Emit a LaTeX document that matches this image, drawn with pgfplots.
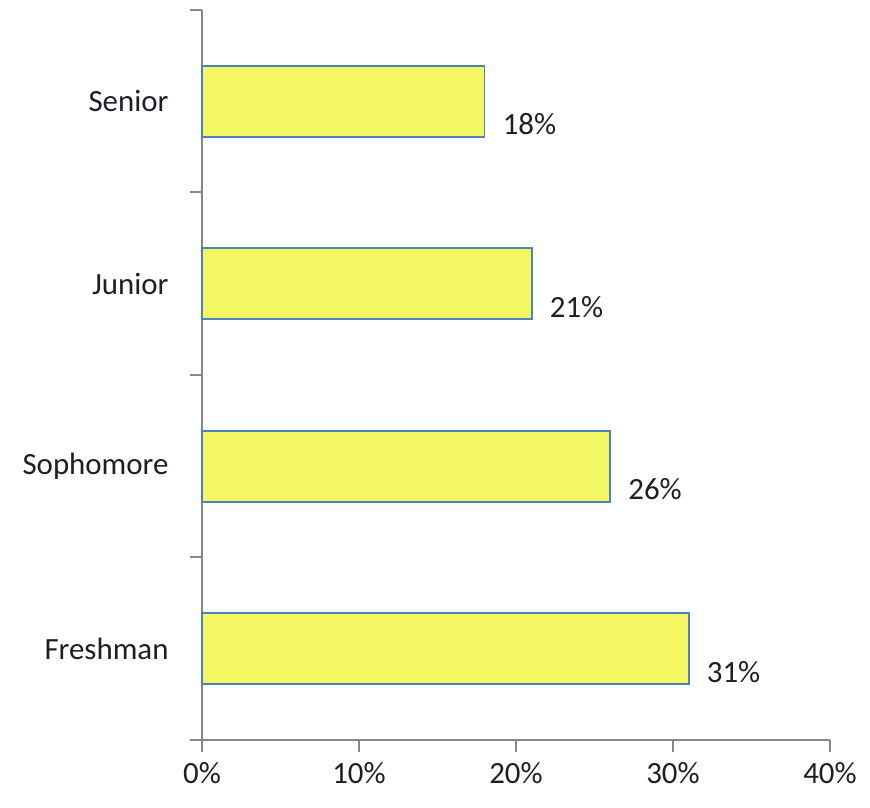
\documentclass[border=0pt]{standalone}
\usepackage{pgfplots}
\pgfplotsset{compat=1.18}
\usepackage{fontspec}
\setmainfont{Carlito}
\definecolor{barfill}{RGB}{243,248,98}
\definecolor{barline}{RGB}{79,129,189}
\definecolor{axisgray}{RGB}{134,134,134}
\definecolor{txt}{RGB}{30,30,40}
\begin{document}
\begin{tikzpicture}
\begin{axis}[
  at={(0,0)}, anchor=south west,
  scale only axis, width=628bp, height=730bp,
  xmin=0, xmax=40, ymin=-0.5, ymax=3.5,
  axis x line=bottom, axis y line=left,
  axis line style={-, draw=axisgray, line width=2bp},
  every outer x axis line/.append style={-},
  every outer y axis line/.append style={-},
  xtick={0,10,20,30,40},
  xticklabels={0\%,10\%,20\%,30\%,40\%},
  ytick={-0.5,0.5,1.5,2.5,3.5},
  yticklabels={Freshman,Sophomore,Junior,Senior},
  y tick label as interval,
  tick align=outside,
  major tick length=12bp,
  tick style={draw=axisgray, line width=2bp},
  ticklabel style={font=\fontsize{31}{36}\selectfont, text=txt},
  yticklabel style={xshift=-18bp},
  xticklabel style={yshift=-7bp},
  /pgf/number format/assume math mode=true,
  point meta=x,
  nodes near coords={\pgfmathprintnumber{\pgfplotspointmeta}\%},
  every node near coord/.append style={anchor=west, xshift=14bp, yshift=-23bp, font=\fontsize{31}{36}\selectfont, text=txt},
  clip=false,
]
\addplot[xbar, bar width=0.39, fill=barfill, draw=barline, line width=1.8bp]
  coordinates {(31,0) (26,1) (21,2) (18,3)};
\end{axis}
\pgfresetboundingbox
\path (-202bp,-68bp) rectangle (668bp,740bp);
\end{tikzpicture}
\end{document}
